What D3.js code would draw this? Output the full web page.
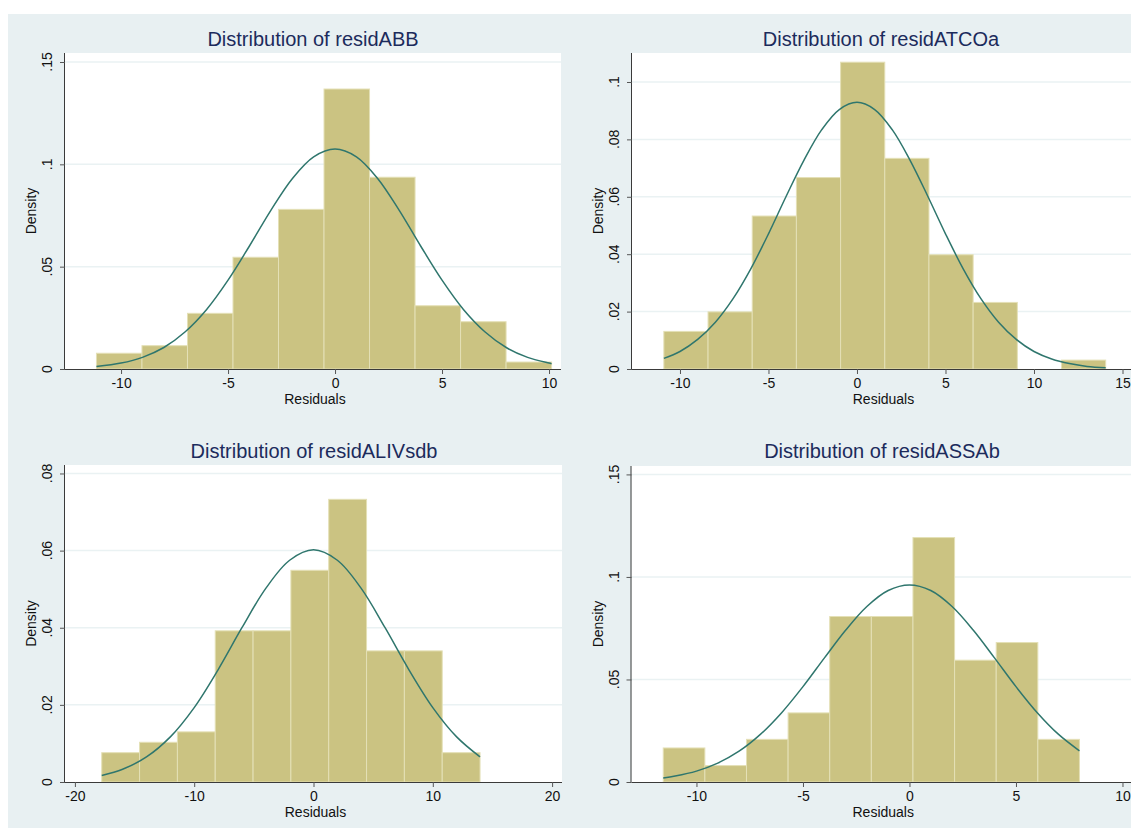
<!DOCTYPE html>
<html>
<head>
<meta charset="utf-8">
<script src="https://cdn.jsdelivr.net/npm/d3@7"></script>
<style>
  body { margin: 0; background: #fff; }
  svg text { font-family: Helvetica, "Liberation Sans", Arial, sans-serif; }
</style>
</head>
<body>
<svg id="chart" width="1131" height="830"></svg>
<script>
// histogram bin edges (residual values) and bar densities
const abbEdges = [-11.15, -9.023, -6.896, -4.769, -2.642, -0.515, 1.612, 3.739, 5.866, 7.993, 10.12];
const abbDensity = [0.0077, 0.0114, 0.0272, 0.0546, 0.078, 0.1368, 0.0937, 0.0309, 0.0231, 0.0034];

const atcoEdges = [-10.91, -8.414, -5.918, -3.422, -0.926, 1.57, 4.066, 6.562, 9.058, 11.554, 14.05];
const atcoDensity = [0.0131, 0.0199, 0.0533, 0.0667, 0.1069, 0.0734, 0.0398, 0.0232, 0, 0.0031];

const alivEdges = [-17.75, -14.579, -11.408, -8.237, -5.066, -1.895, 1.276, 4.447, 7.618, 10.789, 13.96];
const alivDensity = [0.0076, 0.0103, 0.013, 0.0392, 0.0392, 0.0549, 0.0733, 0.034, 0.034, 0.0076];

const assaEdges = [-11.56, -9.606, -7.652, -5.698, -3.744, -1.79, 0.164, 2.118, 4.072, 6.026, 7.98];
const assaDensity = [0.0166, 0.008, 0.0208, 0.0337, 0.0807, 0.0807, 0.1192, 0.0594, 0.068, 0.0208];

// normal density overlay [residual, density]
const abbCurve = [[-11.15, 0.0012], [-10, 0.0029], [-9, 0.0057], [-8, 0.0105], [-7, 0.0182], [-6, 0.0291],
  [-5, 0.0434], [-4, 0.0601], [-3, 0.0775], [-2, 0.093], [-1, 0.1037], [0, 0.1075], [1, 0.1037], [2, 0.093],
  [3, 0.0775], [4, 0.0601], [5, 0.0434], [6, 0.0291], [7, 0.0182], [8, 0.0105], [9, 0.0057], [10, 0.0029], [10.12, 0.0026]];
const atcoCurve = [[-10.91, 0.0037], [-10, 0.0061], [-9, 0.0103], [-8, 0.0163], [-7, 0.0245], [-6, 0.0349],
  [-5, 0.0471], [-4, 0.0602], [-3, 0.0727], [-2, 0.0833], [-1, 0.0904], [0, 0.0929], [1, 0.0904], [2, 0.0833],
  [3, 0.0727], [4, 0.0602], [5, 0.0471], [6, 0.0349], [7, 0.0245], [8, 0.0163], [9, 0.0103], [10, 0.0061],
  [11, 0.0035], [12, 0.0019], [13, 0.0009], [14.05, 0.0004]];
const alivCurve = [[-17.75, 0.0017], [-16, 0.0033], [-14, 0.0065], [-12, 0.0117], [-10, 0.0193], [-8, 0.0291],
  [-6, 0.04], [-4, 0.0502], [-2, 0.0575], [0, 0.0602], [2, 0.0575], [4, 0.0502], [6, 0.04], [8, 0.0291],
  [10, 0.0193], [12, 0.0117], [13.96, 0.0065]];
const assaCurve = [[-11.56, 0.002], [-11, 0.0029], [-10, 0.0053], [-9, 0.0092], [-8, 0.015], [-7, 0.0232],
  [-6, 0.0338], [-5, 0.0465], [-4, 0.0604], [-3, 0.074], [-2, 0.0856], [-1, 0.0934], [0, 0.0961], [1, 0.0934],
  [2, 0.0856], [3, 0.074], [4, 0.0604], [5, 0.0465], [6, 0.0338], [7, 0.0232], [7.98, 0.0152]];

// axis ticks
const abbXTicks = [-10, -5, 0, 5, 10];
const abbYTicks = [0, 0.05, 0.1, 0.15];
const atcoXTicks = [-10, -5, 0, 5, 10, 15];
const atcoYTicks = [0, 0.02, 0.04, 0.06, 0.08, 0.1];
const alivXTicks = [-20, -10, 0, 10, 20];
const alivYTicks = [0, 0.02, 0.04, 0.06, 0.08];
const assaXTicks = [-10, -5, 0, 5, 10];
const assaYTicks = [0, 0.05, 0.1, 0.15];

const titles = ["Distribution of residABB", "Distribution of residATCOa",
  "Distribution of residALIVsdb", "Distribution of residASSAb"];

const svg = d3.select("#chart");

// light stata-like background
svg.append("rect")
  .attr("x", 8).attr("y", 14)
  .attr("width", 1123).attr("height", 814)
  .attr("fill", "#e8f0f2");

// stata drops the leading zero (".05") and uses a plain hyphen for minus
const fmtY = (v) => (v === 0 ? "0" : String(v).replace(/^0/, ""));
const fmtX = (v) => String(v);

function drawPanel(p) {
  const x = d3.scaleLinear().domain(p.xDomain).range([p.left, p.right]);
  const y = d3.scaleLinear().domain(p.yDomain).range([p.bottom, p.top]);

  const g = svg.append("g");

  g.append("rect")
    .attr("x", p.left).attr("y", p.top)
    .attr("width", p.right - p.left).attr("height", p.bottom - p.top)
    .attr("fill", "#fff");

  // grid
  g.selectAll(".grid")
    .data(p.yTicks.filter((d) => d > 0))
    .join("line")
    .attr("class", "grid")
    .attr("x1", p.left).attr("x2", p.right)
    .attr("y1", (d) => y(d)).attr("y2", (d) => y(d))
    .attr("stroke", "#eaf2f3")
    .attr("stroke-width", 1.5);

  // bars
  g.selectAll(".bar")
    .data(p.density)
    .join("rect")
    .attr("class", "bar")
    .attr("x", (d, i) => x(p.edges[i]))
    .attr("width", (d, i) => x(p.edges[i + 1]) - x(p.edges[i]))
    .attr("y", (d) => y(d))
    .attr("height", (d) => y(0) - y(d))
    .attr("fill", "#cbc382")
    .attr("stroke", (d) => (d > 0 ? "#e4e0b6" : "none"))
    .attr("stroke-width", 1);

  // normal curve
  const line = d3.line()
    .x((d) => x(d[0]))
    .y((d) => y(d[1]))
    .curve(d3.curveCatmullRom);

  g.append("path")
    .attr("d", line(p.curve))
    .attr("fill", "none")
    .attr("stroke", "#2f766d")
    .attr("stroke-width", 1.5);

  // x axis
  const xAxis = d3.axisBottom(x)
    .tickValues(p.xTicks)
    .tickSize(5)
    .tickPadding(4)
    .tickFormat(fmtX);
  const gx = g.append("g")
    .attr("transform", `translate(0,${p.bottom})`)
    .call(xAxis);
  gx.select(".domain")
    .attr("d", `M${p.left},0.5H${p.right}`)
    .attr("stroke", "#3a3a3a");
  gx.selectAll(".tick line").attr("stroke", "#555");
  gx.selectAll("text")
    .attr("font-size", 14)
    .attr("fill", "#111")
    .style("font-family", "Helvetica, 'Liberation Sans', Arial, sans-serif");

  // y axis
  const yAxis = d3.axisLeft(y)
    .tickValues(p.yTicks)
    .tickSize(5)
    .tickFormat("");
  const gy = g.append("g")
    .attr("transform", `translate(${p.left},0)`)
    .call(yAxis);
  gy.select(".domain")
    .attr("d", `M-0.5,${p.bottom}V${p.top}`)
    .attr("stroke", "#3a3a3a");
  gy.selectAll(".tick line").attr("stroke", "#555");

  g.selectAll(".ylab")
    .data(p.yTicks)
    .join("text")
    .attr("class", "ylab")
    .attr("transform", (d) => `translate(${p.left - 13},${y(d)}) rotate(-90)`)
    .attr("text-anchor", "middle")
    .attr("font-size", 14)
    .attr("fill", "#111")
    .text(fmtY);

  // axis titles
  g.append("text")
    .attr("x", (p.left + p.right) / 2 + 2)
    .attr("y", p.bottom + 35)
    .attr("text-anchor", "middle")
    .attr("font-size", 14)
    .attr("fill", "#111")
    .text("Residuals");

  g.append("text")
    .attr("transform", `translate(${p.left - 29},${(p.top + p.bottom) / 2}) rotate(-90)`)
    .attr("text-anchor", "middle")
    .attr("font-size", 14)
    .attr("fill", "#111")
    .text("Density");

  g.append("text")
    .attr("x", p.titleX)
    .attr("y", p.titleY)
    .attr("text-anchor", "middle")
    .attr("font-size", 20)
    .attr("fill", "#1c2b5c")
    .text(p.title);
}

const panels = [
  { title: titles[0], edges: abbEdges, density: abbDensity, curve: abbCurve, xTicks: abbXTicks, yTicks: abbYTicks,
    left: 65, right: 561, top: 53, bottom: 369, xDomain: [-12.62, 10.56], yDomain: [0, 0.1544], titleX: 313, titleY: 46 },
  { title: titles[1], edges: atcoEdges, density: atcoDensity, curve: atcoCurve, xTicks: atcoXTicks, yTicks: atcoYTicks,
    left: 632, right: 1131, top: 53, bottom: 369, xDomain: [-12.71, 15.48], yDomain: [0, 0.1101], titleX: 881, titleY: 46 },
  { title: titles[2], edges: alivEdges, density: alivDensity, curve: alivCurve, xTicks: alivXTicks, yTicks: alivYTicks,
    left: 65, right: 562, top: 465, bottom: 782, xDomain: [-20.83, 20.83], yDomain: [0, 0.0822], titleX: 314, titleY: 458 },
  { title: titles[3], edges: assaEdges, density: assaDensity, curve: assaCurve, xTicks: assaXTicks, yTicks: assaYTicks,
    left: 631.5, right: 1131, top: 466, bottom: 782, xDomain: [-13.05, 10.4], yDomain: [0, 0.1541], titleX: 882, titleY: 458 },
];

panels.forEach(drawPanel);
</script>
</body>
</html>
